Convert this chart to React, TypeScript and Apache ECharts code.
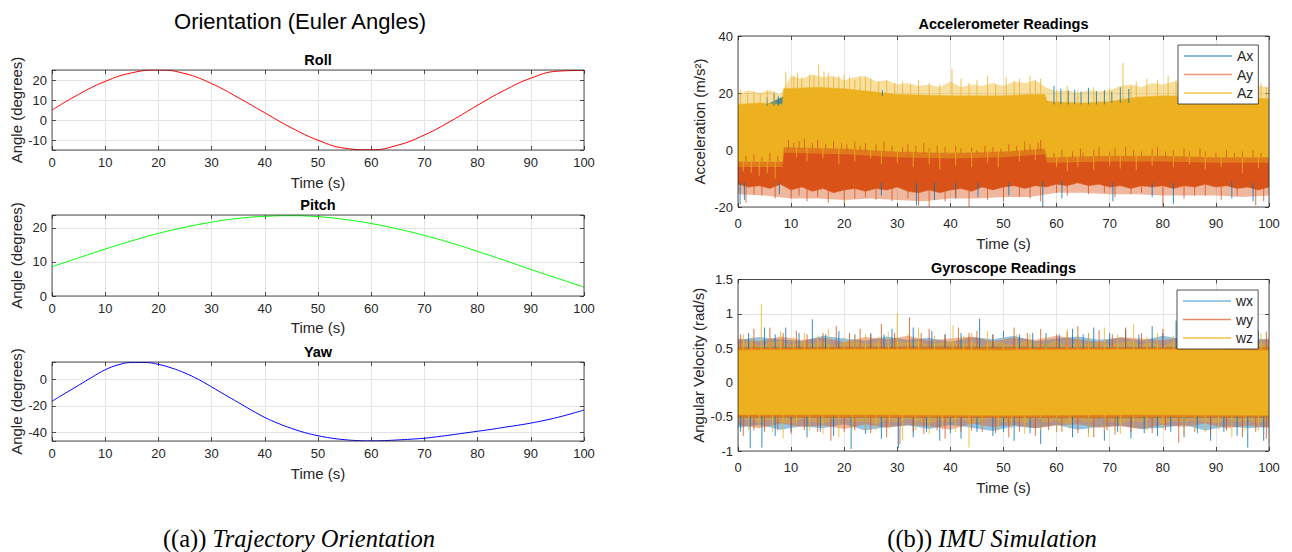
import { useEffect, useRef } from "react";
import * as echarts from "echarts";

const SANS = "'Liberation Sans', Arial, Helvetica, sans-serif";
const SERIF = "'Liberation Serif', 'Times New Roman', Times, serif";
const INK = "#262626";
const GRIDLINE = "#e4e4e4";

// ---------- Orientation (Euler angles, degrees) ----------
const eulerTime = [0, 5, 10, 15, 20, 25, 30, 35, 40, 45, 50, 55, 60, 65, 70, 75, 80, 85, 90, 95, 100];
const rollDeg = [5, 12.8, 19.3, 23.6, 25, 23.2, 18.2, 11.2, 3.6, -3.9, -10.1, -14.1, -14.9, -12.6, -7.5, -0.5, 7.4, 14.8, 20.9, 24.4, 24.8];
const pitchDeg = [8.6, 11.2, 13.8, 16.2, 18.4, 20.2, 21.7, 22.8, 23.4, 23.6, 23.3, 22.5, 21.3, 19.7, 17.8, 15.6, 13.1, 10.5, 7.8, 5.2, 2.6];
const yawTime = [0, 2.5, 5, 7.5, 10, 12.5, 15, 17.5, 20, 22.5, 25, 27.5, 30, 32.5, 35, 37.5, 40, 42.5, 45, 47.5, 50, 52.5, 55, 57.5, 60, 62.5, 65, 67.5, 70, 72.5, 75, 77.5, 80, 82.5, 85, 87.5, 90, 92.5, 95, 97.5, 100];
const yawDeg = [-16.4, -10.3, -4.3, 1.8, 7.5, 11.3, 13, 13, 11.6, 8.8, 5, 0.2, -5.5, -11.5, -17.3, -23.2, -28.7, -33.2, -37, -40.2, -42.6, -44.4, -45.6, -46.3, -46.5, -46.3, -45.8, -45.2, -44.5, -43.3, -42, -40.6, -39.2, -37.8, -36.2, -34.7, -33, -31, -28.7, -26, -23.1];

// ---------- Accelerometer (m/s^2) ----------
// Each noisy trace: a solid core, a thinner fringe where samples get sparse, and isolated peaks.
// Az core edges [t, value]
const azCoreUpper = [[0, 16], [4, 16.5], [8.4, 16], [8.6, 21.5], [15, 22], [20, 21.5], [25, 20.5], [30, 19.5], [40, 19], [50, 19], [55, 19.5], [57.8, 19.5], [58.2, 17], [65, 16.5], [70, 17], [75, 18.5], [80, 19], [90, 18.5], [100, 18]];
const azCoreLower = [[0, -4], [8.4, -4], [8.6, 1], [20, 0.5], [30, -0.5], [40, -1], [50, -0.5], [57.8, 0.5], [58.2, -2.5], [70, -2], [80, -2], [90, -2.5], [100, -2.5]];
// Az fringe: top every 2 s, bottom [t, value]
const azFringeUpper = [19.5, 21, 20, 21, 19.5, 26, 25, 26.5, 25.5, 26, 24.5, 25.5, 26, 24, 24.5, 23, 23.5, 22.5, 23, 22, 24, 22, 23, 22.5, 23.5, 22.5, 24, 23.5, 24.5, 22, 20.5, 21, 20, 21, 20.5, 21, 22.5, 23, 22, 23.5, 23, 24, 23, 23.5, 22.5, 22, 23, 22.5, 21.5, 22.5, 22];
const azFringeLower = [[0, -6], [8.4, -6], [8.6, -1], [20, -1.5], [30, -2.5], [40, -3], [50, -2.5], [57.8, -1.5], [58.2, -4.5], [70, -4], [80, -4], [90, -4.5], [100, -4.5]];
// Ay: core bottom every 2 s (its top lies under Az), fringe bottom every 5 s
const ayCoreLower = [-12, -13, -12.5, -13.5, -12, -14, -13, -14.5, -13.5, -15, -14, -13.5, -14.5, -13.5, -14, -13, -14.5, -15, -14, -15, -14, -13.5, -14.5, -13, -14, -13, -12.5, -13.5, -12.5, -13, -12, -12.5, -11.5, -12.5, -12, -13, -12.5, -13.5, -12.5, -13, -12.5, -13.5, -12.5, -13, -12, -13, -12.5, -13.5, -13, -14, -13];
const ayFringeLower = [-15.5, -16, -17, -17, -17.5, -17, -17.5, -18, -17, -17, -16.5, -16.5, -15, -15, -15.5, -15.5, -16, -16, -16, -16.5, -16];
// Ax core, every 5 s (hidden behind Ay and Az)
const axUpper = [15, 15.5, 20, 20.5, 20, 19.5, 19, 18.5, 18.5, 18.5, 18.5, 19, 16, 16, 16.5, 18, 18.5, 18, 18, 17.5, 17.5];
const axLower = [-11.5, -12, -11.5, -12, -11.5, -12, -11.5, -12, -11.5, -12, -11.5, -11.5, -11, -11, -11.5, -11.5, -11.5, -11.5, -11, -11.5, -11.5];

// isolated peaks [time s, value]
const axPeaksUp = [[5.5, 18.5], [6.8, 19.8], [7.6, 18.8], [27.2, 21], [59.5, 22.5], [60.8, 21.5], [62.2, 20.8], [63.4, 21.2], [64.6, 20.5], [66, 21.8], [67.5, 20.6], [69, 21], [70.4, 20.5], [72, 22], [73.6, 21.4]];
const axPeaksDown = [[0.4, -19], [1.2, -17.5], [7.8, -15.5], [27, -16], [33.6, -19.5], [37, -17.5], [41, -17], [45.2, -16.5], [51, -16], [57.4, -20], [61, -17], [70.6, -18], [78, -16.5], [82, -19], [93, -17], [97, -18]];
const ayPeaksUp = [[1.5, -2], [3, -1.5], [4.5, -2.5], [6, -1], [7.5, -2], [9.5, 3.5], [10.5, 2.5], [11.5, 3], [12.5, 4], [14, 2.5], [15, 3.5], [16.5, 2], [18, 3], [19.5, 2.5], [20.5, 2], [22, 3], [23, 1.5], [24, 2.5], [26, 2], [27.5, 3], [29, 1.5], [31, 1], [32, 2], [33.5, 1.5], [35, 2.5], [36, 0.5], [37.5, 1.5], [39, 1], [41, 1.5], [42, 0.5], [44, 1], [45, 0], [46.5, 1.5], [48, 1], [49.5, 0.5], [51, 2], [52.5, 1.5], [54, 3], [55, 2], [56.5, 2.5], [57, 3.5], [59.5, -1], [61, 0], [63, -0.5], [64.5, 0.5], [65, -1], [67, 0], [68, 1], [70, -0.5], [71, 0.5], [73, 1], [74.5, 0], [76, -0.5], [78, 0.5], [79, 1], [80.5, -0.5], [82, 0], [84, 0.5], [85, -0.5], [87, 0.5], [88, -0.5], [90, -1], [92, 0], [93.5, -1], [95, -0.5], [97, 0], [98.5, -1]];
const ayPeaksDown = [[1.5, -18.5], [3, -15.5], [4.5, -16], [7, -17], [10, -17], [11.5, -16], [13, -18], [15, -16.5], [17, -18.5], [20, -19], [22, -17], [24, -16.5], [26, -17.5], [29, -18], [32, -17], [34, -19.5], [36, -20], [39, -18], [41, -16.5], [43.5, -20], [47, -17.5], [50, -18], [53, -16.5], [55, -17], [57, -18], [60, -15], [62, -16], [66, -15.5], [69, -15], [71, -16.5], [74, -15.5], [76, -15], [80, -19.5], [84, -17], [86, -16], [88, -16], [91, -17.5], [94, -16], [97.5, -19.5], [99, -18]];
const azPeaksUp = [[0.5, 21], [1.8, 20], [3, 20.5], [4.2, 19.8], [5.5, 21], [6.8, 20.5], [9, 27.5], [10.5, 26], [11.2, 27], [12, 25.5], [13.5, 26.5], [14.3, 26], [15.2, 30], [16.2, 27.5], [17, 27], [18, 25.5], [19, 26], [20, 26.5], [21, 25.5], [22, 24.5], [23, 26], [24, 25.5], [25, 25], [26.5, 24], [28, 24.5], [29.5, 23.5], [31, 24], [32.5, 23], [34, 24.5], [36, 23.5], [38, 23], [40.3, 28.5], [42, 25], [43.5, 23.5], [45, 24.5], [47, 26], [48.5, 23], [50.5, 25.5], [52, 24], [53, 25], [55, 26], [56, 24.5], [57, 25], [60, 21], [62, 22.5], [64, 21], [67, 22], [70, 21.5], [72.5, 30.5], [74, 22.5], [75, 24], [77, 25], [79, 24.5], [81, 26], [82.5, 24.5], [84, 25], [86, 23.5], [87, 24], [89, 24.5], [90, 23.5], [92, 23], [93, 24], [95, 22.5], [96, 23], [98.5, 23.5], [99.5, 22]];
const azPeaksDown = [[1, -7.5], [2.5, -8], [4, -9], [5.5, -8], [7, -10], [11, -2.5], [13, -4], [16, -3], [19, -5], [22, -4], [25, -3], [27, -5], [30, -4.5], [33, -6], [36, -5], [38, -7], [41, -5.5], [44, -6], [47, -4.5], [49, -6], [53, -4], [56, -3.5], [60, -6], [62, -7.5], [64, -6], [67, -7], [70, -5.5], [72, -6.5], [75, -7], [78, -5.5], [82, -6], [85, -5], [88, -7], [91, -6], [95, -8], [98, -6.5]];

// ---------- Gyroscope (rad/s) ----------
const wxCoreUpper = [[0, 0.5], [30, 0.51], [60, 0.5], [100, 0.51]];
const wxCoreLower = [[0, -0.5], [30, -0.51], [60, -0.51], [100, -0.5]];
const wyCoreUpper = [[0, 0.51], [40, 0.52], [70, 0.51], [100, 0.51]];
const wyCoreLower = [[0, -0.51], [40, -0.51], [70, -0.52], [100, -0.51]];
const wzCoreUpper = [[0, 0.47], [25, 0.48], [50, 0.47], [75, 0.48], [100, 0.47]];
const wzCoreLower = [[0, -0.47], [25, -0.47], [50, -0.48], [75, -0.47], [100, -0.48]];
// fringe edges: wx / wy every 4 s, wz every 2 s
const wxFringeUpper = [0.62, 0.66, 0.63, 0.6, 0.68, 0.64, 0.61, 0.67, 0.62, 0.65, 0.59, 0.66, 0.63, 0.68, 0.6, 0.64, 0.67, 0.62, 0.65, 0.61, 0.68, 0.63, 0.66, 0.6, 0.65, 0.62];
const wxFringeLower = [-0.66, -0.62, -0.69, -0.64, -0.67, -0.61, -0.7, -0.65, -0.63, -0.68, -0.62, -0.66, -0.71, -0.64, -0.67, -0.62, -0.69, -0.65, -0.63, -0.68, -0.66, -0.62, -0.7, -0.64, -0.67, -0.65];
const wyFringeUpper = [0.64, 0.6, 0.67, 0.62, 0.65, 0.59, 0.66, 0.63, 0.68, 0.61, 0.64, 0.67, 0.6, 0.65, 0.62, 0.68, 0.63, 0.59, 0.66, 0.64, 0.61, 0.67, 0.62, 0.65, 0.6, 0.64];
const wyFringeLower = [-0.62, -0.67, -0.6, -0.65, -0.63, -0.68, -0.61, -0.66, -0.62, -0.64, -0.69, -0.6, -0.65, -0.62, -0.67, -0.63, -0.61, -0.66, -0.64, -0.68, -0.62, -0.65, -0.6, -0.67, -0.63, -0.66];
const wzFringeUpper = [0.55, 0.6, 0.53, 0.58, 0.61, 0.54, 0.59, 0.56, 0.6, 0.53, 0.58, 0.61, 0.55, 0.59, 0.53, 0.6, 0.57, 0.61, 0.54, 0.58, 0.6, 0.55, 0.59, 0.53, 0.61, 0.57, 0.54, 0.6, 0.58, 0.55, 0.61, 0.53, 0.59, 0.56, 0.6, 0.54, 0.58, 0.61, 0.55, 0.59, 0.53, 0.6, 0.57, 0.61, 0.54, 0.58, 0.6, 0.55, 0.59, 0.56, 0.58];
const wzFringeLower = [-0.56, -0.52, -0.59, -0.54, -0.58, -0.61, -0.53, -0.57, -0.6, -0.55, -0.52, -0.58, -0.56, -0.61, -0.54, -0.59, -0.53, -0.57, -0.6, -0.55, -0.58, -0.53, -0.61, -0.56, -0.52, -0.59, -0.55, -0.6, -0.53, -0.58, -0.56, -0.61, -0.54, -0.59, -0.52, -0.57, -0.6, -0.55, -0.58, -0.53, -0.61, -0.56, -0.59, -0.54, -0.57, -0.6, -0.53, -0.58, -0.55, -0.59, -0.56];

const wxPeaksUp = [[2, 0.72], [5, 0.8], [7, 0.7], [9, 0.8], [11.5, 0.72], [14, 0.92], [16.5, 0.7], [19, 0.75], [22, 0.7], [25, 0.72], [27.5, 0.7], [29, 0.78], [33, 0.8], [36.5, 0.75], [39, 0.7], [42, 0.72], [45.5, 0.93], [48, 0.7], [50, 0.75], [53, 0.7], [55.5, 0.72], [58, 0.72], [60.5, 0.7], [63, 0.78], [65, 0.7], [67, 0.8], [70, 0.72], [73, 0.77], [75.5, 0.7], [78, 0.82], [80, 0.72], [82.5, 0.9], [85, 0.7], [87, 0.75], [90.5, 0.8], [92, 0.7], [94, 0.72], [96, 0.72], [98, 0.76]];
const wxPeaksDown = [[0.5, -0.72], [2.3, -0.96], [4.5, -0.95], [7, -0.78], [10, -0.72], [13, -0.8], [15.5, -0.72], [18, -0.78], [21.3, -0.97], [24, -0.75], [27, -0.82], [30.2, -0.96], [33, -0.8], [35.5, -0.72], [38, -0.85], [40, -0.74], [42, -0.82], [45, -0.72], [48, -0.78], [50, -0.72], [52, -0.85], [55, -0.74], [57, -0.9], [60, -0.72], [63, -0.8], [66, -0.74], [69, -0.85], [71.5, -0.72], [74, -0.82], [76.5, -0.74], [79, -0.78], [81.5, -0.72], [84, -0.8], [86.5, -0.74], [89, -0.85], [91.5, -0.72], [94, -0.78], [96, -0.95], [99, -0.85]];
const wyPeaksUp = [[0.5, 0.7], [3, 0.78], [6, 0.8], [8.5, 0.72], [11, 0.75], [13, 0.7], [16, 0.72], [18.5, 0.82], [21, 0.72], [23, 0.78], [25, 0.7], [27, 0.85], [29.5, 0.72], [32.3, 0.95], [34.5, 0.72], [36, 0.78], [39, 0.7], [41.5, 0.8], [43.5, 0.72], [45, 0.75], [48, 0.7], [52, 0.8], [54.5, 0.72], [57, 0.78], [60, 0.7], [62, 0.74], [64, 0.82], [66, 0.72], [68, 0.76], [70.5, 0.7], [73, 0.8], [76, 0.72], [80, 0.78], [83, 0.72], [86, 0.84], [89, 0.72], [92, 0.78], [94.5, 0.72], [97, 0.8], [99.5, 0.74]];
const wyPeaksDown = [[1, -0.78], [3, -0.7], [5, -0.72], [7.5, -0.7], [10, -0.75], [12.5, -0.7], [15, -0.72], [17.5, -0.85], [20, -0.72], [22, -0.7], [25, -0.74], [28, -0.8], [30.5, -0.9], [33, -0.72], [35, -0.75], [37.5, -0.7], [39, -0.82], [42, -0.72], [44, -0.7], [46, -0.72], [48.5, -0.74], [51, -0.8], [53, -0.72], [56, -0.78], [58.5, -0.7], [61, -0.72], [64, -0.74], [67, -0.8], [69.5, -0.7], [71, -0.76], [74, -0.72], [78, -0.74], [80.5, -0.7], [83, -0.88], [86, -0.72], [89, -0.75], [92, -0.7], [95, -0.8], [97.5, -0.72], [99.5, -0.82]];
const wzPeaksUp = [[1, 0.7], [2.6, 0.66], [4.4, 1.14], [6, 0.68], [8, 0.75], [10.5, 0.66], [12.5, 0.72], [15, 0.68], [17, 0.78], [20, 0.66], [22, 0.7], [24, 0.7], [26.5, 0.67], [28.3, 0.74], [30, 1.01], [32, 0.7], [34, 0.8], [37, 0.68], [40.5, 0.83], [42.5, 0.68], [44, 0.72], [47, 0.75], [50, 0.66], [52.5, 0.7], [55, 0.7], [58, 0.68], [62, 0.78], [64, 0.68], [66, 0.72], [69, 0.8], [71.5, 0.7], [74.5, 0.85], [77, 0.67], [79, 0.72], [82, 0.68], [85, 0.75], [88, 0.68], [91, 0.7], [93.5, 0.67], [96, 0.75], [98.5, 0.72]];
const wzPeaksDown = [[2, -0.7], [4, -0.66], [6.5, -0.72], [8.5, -0.82], [11, -0.66], [13.5, -0.7], [16, -0.75], [19, -0.8], [21.5, -0.68], [24, -0.7], [26, -0.7], [28.5, -0.67], [31, -0.85], [33.5, -0.7], [36, -0.75], [38.5, -0.68], [41, -0.72], [43.5, -0.95], [46, -0.68], [49, -0.7], [51.5, -0.67], [54, -0.75], [57, -0.7], [60, -0.72], [62.5, -0.68], [66, -0.8], [69, -0.7], [72, -0.75], [74.5, -0.68], [77, -0.7], [80, -0.67], [84, -0.78], [86, -0.7], [88, -0.72], [90.5, -0.68], [93, -0.8], [95.5, -0.7], [98, -0.7]];

// ---------- styling ----------
const BLUE = "#0072BD";
const ORANGE = "#D95319";
const YELLOW = "#EDB120";
const FRINGE_OPACITY = 0.42;

// subplot rectangles (px)
const GRIDS = [
  { left: 52, top: 70, width: 532, height: 80 }, // roll
  { left: 52, top: 215, width: 532, height: 81 }, // pitch
  { left: 52, top: 362, width: 532, height: 79 }, // yaw
  { left: 738, top: 36, width: 531, height: 171 }, // accelerometer
  { left: 738, top: 279.5, width: 531, height: 171.5 }, // gyroscope
];

type Env = number[][];
// regularly sampled values -> [t, value]
const every = (step: number, vals: number[]): Env => vals.map((v, i) => [i * step, v]);

const stepFormatter = (step: number) => (v: number) =>
  Math.abs(v / step - Math.round(v / step)) < 1e-6 ? String(Math.round(v * 1000) / 1000) : "";

type YSpec = { min: number; max: number; interval?: number; splitNumber?: number; step: number; name: string; nameGap: number };

function buildAxes(g: number, y: YSpec, xLabelMargin: number, xNameGap: number) {
  const tick = { show: true, inside: true, length: 4, lineStyle: { color: INK, width: 0.8 } };
  const xBottom = {
    gridIndex: g, type: "value", position: "bottom", min: 0, max: 100, interval: 10,
    name: "Time (s)", nameLocation: "middle", nameGap: xNameGap, nameMoveOverlap: false,
    nameTextStyle: { fontFamily: SANS, fontSize: 15, color: INK },
    axisLine: { show: false, onZero: false }, axisTick: tick,
    axisLabel: { margin: xLabelMargin, fontFamily: SANS, fontSize: 13, color: INK },
    splitLine: { show: true, lineStyle: { color: GRIDLINE, width: 1 } },
  };
  const xTop = {
    gridIndex: g, type: "value", position: "top", min: 0, max: 100, interval: 10,
    axisLine: { show: false, onZero: false }, axisTick: tick, axisLabel: { show: false }, splitLine: { show: false },
  };
  const yCommon = { gridIndex: g, type: "value", min: y.min, max: y.max, interval: y.interval, splitNumber: y.splitNumber };
  const yLeft = {
    ...yCommon, position: "left",
    name: y.name, nameLocation: "middle", nameGap: y.nameGap, nameRotate: 90, nameMoveOverlap: false,
    nameTextStyle: { fontFamily: SANS, fontSize: 15, color: INK },
    axisLine: { show: false, onZero: false }, axisTick: tick,
    axisLabel: { margin: 5, fontFamily: SANS, fontSize: 13, color: INK, formatter: stepFormatter(y.step) },
    splitLine: { show: true, lineStyle: { color: GRIDLINE, width: 1 } },
  };
  const yRight = {
    ...yCommon, position: "right",
    axisLine: { show: false, onZero: false }, axisTick: tick, axisLabel: { show: false }, splitLine: { show: false },
  };
  return { x: [xBottom, xTop], y: [yLeft, yRight] };
}

function curve(g: number, ts: number[], vs: number[], color: string) {
  return {
    type: "line", xAxisIndex: 2 * g, yAxisIndex: 2 * g, data: ts.map((t, i) => [t, vs[i]]),
    smooth: 0.45, symbol: "none", silent: true, clip: true,
    lineStyle: { color, width: 1 },
  };
}

// filled region between two edges
function band(name: string, color: string, g: number, upper: Env, lower: Env, opacity = 1) {
  return {
    type: "custom", name, xAxisIndex: 2 * g, yAxisIndex: 2 * g, data: [[50, 0]], clip: true, silent: true,
    itemStyle: { color },
    renderItem: (_p: any, api: any) => {
      const pts: number[][] = upper.map(([t, v]) => api.coord([t, v]));
      for (let i = lower.length - 1; i >= 0; i--) pts.push(api.coord([lower[i][0], lower[i][1]]));
      return {
        type: "polygon", shape: { points: pts },
        style: { fill: color, stroke: color, lineWidth: opacity === 1 ? 0.6 : 0, opacity },
      };
    },
  };
}

const edgeAt = (edge: Env, t: number, pick: (a: number, b: number) => number) => {
  let i = 0;
  while (i < edge.length - 2 && edge[i + 1][0] <= t) i++;
  return pick(edge[i][1], edge[i + 1][1]);
};

// isolated samples drawn as needles rising from the core edge
function peaks(name: string, color: string, g: number, ups: Env, upper: Env, downs: Env, lower: Env) {
  return {
    type: "custom", name, xAxisIndex: 2 * g, yAxisIndex: 2 * g, data: [[50, 0]], clip: true, silent: true,
    itemStyle: { color },
    renderItem: (_p: any, api: any) => {
      const children: any[] = [];
      const seg = (t: number, from: number, to: number) => {
        const a = api.coord([t, from]);
        const b = api.coord([t, to]);
        children.push({
          type: "line", shape: { x1: a[0], y1: a[1], x2: b[0], y2: b[1] },
          style: { stroke: color, lineWidth: 1, opacity: 0.8 },
        });
      };
      ups.forEach(([t, v]) => seg(t, edgeAt(upper, t, Math.min), v));
      downs.forEach(([t, v]) => seg(t, edgeAt(lower, t, Math.max), v));
      return { type: "group", children };
    },
  };
}

function frame(g: number) {
  return {
    type: "custom", xAxisIndex: 2 * g, yAxisIndex: 2 * g, data: [[50, 0]], clip: false, silent: true, z: 10,
    renderItem: (p: any) => ({
      type: "rect",
      shape: { x: p.coordSys.x, y: p.coordSys.y, width: p.coordSys.width, height: p.coordSys.height },
      style: { fill: "none", stroke: INK, lineWidth: 0.8 },
    }),
  };
}

function label(text: string, x: number, y: number, fontSize: number, fontWeight: string) {
  return {
    type: "text", x, y, silent: true, z: 20,
    style: {
      text, fontFamily: SANS, fontSize, fontWeight, fill: "#000",
      align: "center", verticalAlign: "middle", textAlign: "center", textVerticalAlign: "middle",
    },
  };
}

function caption(tag: string, body: string, x: number, y: number) {
  return {
    type: "text", x, y, silent: true, z: 20,
    style: {
      text: `{n|${tag}} {i|${body}}`, fontFamily: SERIF, fontSize: 24.5, fill: "#000",
      align: "center", verticalAlign: "middle", textAlign: "center", textVerticalAlign: "middle",
      rich: {
        n: { fontFamily: SERIF, fontSize: 24.5, fill: "#000" },
        i: { fontFamily: SERIF, fontSize: 24.5, fontStyle: "italic", fill: "#000" },
      },
    },
  };
}

function legendBox(names: string[], colors: string[], left: number, top: number) {
  return {
    orient: "vertical", left, top, selectedMode: false, icon: "rect",
    itemWidth: 48, itemHeight: 1.5, itemGap: 4.5, padding: [4, 5, 4, 6],
    backgroundColor: "#fff", borderColor: INK, borderWidth: 0.8, borderRadius: 0,
    textStyle: { fontFamily: SANS, fontSize: 14, color: INK, lineHeight: 14 },
    data: names.map((name, i) => ({ name, itemStyle: { color: colors[i] } })),
  };
}

function buildOption() {
  const axes = [
    buildAxes(0, { min: -15, max: 25, splitNumber: 4, step: 10, name: "Angle (degrees)", nameGap: 28 }, 6, 24.5),
    buildAxes(1, { min: 0, max: 23.8, splitNumber: 2, step: 10, name: "Angle (degrees)", nameGap: 28 }, 6, 24),
    buildAxes(2, { min: -46.6, max: 13.4, splitNumber: 3, step: 20, name: "Angle (degrees)", nameGap: 28 }, 6, 24.5),
    buildAxes(3, { min: -20, max: 40, interval: 20, step: 20, name: "Acceleration (m/s²)", nameGap: 31 }, 10, 29),
    buildAxes(4, { min: -1, max: 1.5, interval: 0.5, step: 0.5, name: "Angular Velocity (rad/s)", nameGap: 32 }, 10, 29),
  ];

  // accelerometer edges
  const axU = every(5, axUpper), axL = every(5, axLower);
  const ayL = every(2, ayCoreLower), ayFL = every(5, ayFringeLower);
  const azFU = every(2, azFringeUpper);
  // gyroscope edges
  const wxFU = every(4, wxFringeUpper), wxFL = every(4, wxFringeLower);
  const wyFU = every(4, wyFringeUpper), wyFL = every(4, wyFringeLower);
  const wzFU = every(2, wzFringeUpper), wzFL = every(2, wzFringeLower);

  const series: any[] = [
    curve(0, eulerTime, rollDeg, "#ff0000"),
    curve(1, eulerTime, pitchDeg, "#00ff00"),
    curve(2, yawTime, yawDeg, "#0000ff"),

    // accelerometer cores (Ay's top is hidden beneath Az's core)
    band("Ax", BLUE, 3, axU, axL),
    band("Ay", ORANGE, 3, azCoreLower, ayL),
    band("Az", YELLOW, 3, azCoreUpper, azCoreLower),
    // fringes
    band("Ay", ORANGE, 3, ayL, ayFL, FRINGE_OPACITY),
    band("Az", YELLOW, 3, azFU, azCoreUpper, FRINGE_OPACITY),
    band("Az", YELLOW, 3, azCoreLower, azFringeLower, FRINGE_OPACITY),
    // peaks
    peaks("Ax", BLUE, 3, axPeaksUp, axU, axPeaksDown, axL),
    peaks("Ay", ORANGE, 3, ayPeaksUp, azCoreLower, ayPeaksDown, ayL),
    peaks("Az", YELLOW, 3, azPeaksUp, azCoreUpper, azPeaksDown, azCoreLower),

    // gyroscope cores
    band("wx", BLUE, 4, wxCoreUpper, wxCoreLower),
    band("wy", ORANGE, 4, wyCoreUpper, wyCoreLower),
    band("wz", YELLOW, 4, wzCoreUpper, wzCoreLower),
    // fringes
    band("wx", BLUE, 4, wxFU, wxCoreUpper, FRINGE_OPACITY),
    band("wx", BLUE, 4, wxCoreLower, wxFL, FRINGE_OPACITY),
    band("wy", ORANGE, 4, wyFU, wyCoreUpper, FRINGE_OPACITY),
    band("wy", ORANGE, 4, wyCoreLower, wyFL, FRINGE_OPACITY),
    band("wz", YELLOW, 4, wzFU, wzCoreUpper, FRINGE_OPACITY),
    band("wz", YELLOW, 4, wzCoreLower, wzFL, FRINGE_OPACITY),
    // peaks
    peaks("wx", BLUE, 4, wxPeaksUp, wxCoreUpper, wxPeaksDown, wxCoreLower),
    peaks("wy", ORANGE, 4, wyPeaksUp, wyCoreUpper, wyPeaksDown, wyCoreLower),
    peaks("wz", YELLOW, 4, wzPeaksUp, wzCoreUpper, wzPeaksDown, wzCoreLower),

    frame(0), frame(1), frame(2), frame(3), frame(4),
  ];

  return {
    animation: false,
    backgroundColor: "#fff",
    grid: GRIDS.map((r) => ({ ...r, outerBoundsMode: "none", containLabel: false, show: false })),
    xAxis: axes.flatMap((a) => a.x),
    yAxis: axes.flatMap((a) => a.y),
    legend: [
      legendBox(["Ax", "Ay", "Az"], ["#5fa7d9", "#eb9a78", "#f0c04d"], 1178, 45),
      legendBox(["wx", "wy", "wz"], ["#7ab8e2", "#e58a63", "#f0c04d"], 1177, 290),
    ],
    graphic: [
      label("Orientation (Euler Angles)", 300, 21, 22, "normal"),
      label("Roll", 318, 60, 14.5, "bold"),
      label("Pitch", 318, 205, 14.5, "bold"),
      label("Yaw", 318, 352, 14.5, "bold"),
      label("Accelerometer Readings", 1003.5, 24, 14.5, "bold"),
      label("Gyroscope Readings", 1003.5, 268, 14.5, "bold"),
      caption("((a))", "Trajectory Orientation", 299, 538),
      caption("((b))", "IMU Simulation", 992, 538),
    ],
    series,
  };
}

export default function App() {
  const ref = useRef<HTMLDivElement>(null);
  useEffect(() => {
    if (!ref.current) return;
    const chart = echarts.init(ref.current, undefined, { renderer: "svg" });
    chart.setOption(buildOption() as any);
    return () => chart.dispose();
  }, []);
  return (
    <div
      ref={ref}
      style={{ position: "absolute", left: 0, top: 0, width: 1292, height: 552, background: "#fff" }}
    />
  );
}
